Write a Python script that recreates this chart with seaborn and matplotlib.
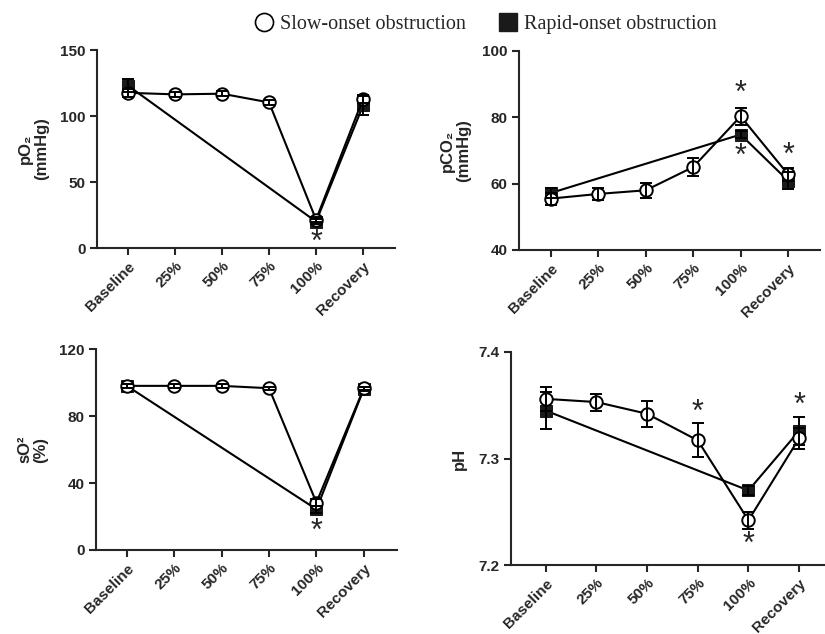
import matplotlib
matplotlib.use("Agg")
import matplotlib.pyplot as plt
import seaborn as sns
import pandas as pd
from matplotlib.lines import Line2D

# categories (x axis)
phases = ["Baseline", "25%", "50%", "75%", "100%", "Recovery"]
rapid_idx = [0, 4, 5]  # rapid-onset measured only at baseline, 100%, recovery

# pO2 (mmHg)
po2_slow = [117.6, 116.4, 116.9, 110.3, 21.5, 113.0]
po2_slow_err = [3, 2, 2, 2, 2, 3]
po2_rapid = [123.0, 20.0, 108.0]
po2_rapid_err = [5, 2, 7]

# pCO2 (mmHg)
pco2_slow = [55.5, 56.9, 58.0, 65.0, 80.3, 62.8]
pco2_slow_err = [1.8, 1.8, 2.2, 2.8, 2.5, 2.0]
pco2_rapid = [57.2, 74.8, 60.9]
pco2_rapid_err = [1.5, 1.0, 2.5]

# sO2 (%)
so2_slow = [98.0, 98.0, 98.0, 96.6, 28.3, 96.6]
so2_slow_err = [1, 1, 1, 1, 2, 1]
so2_rapid = [98.0, 24.3, 96.2]
so2_rapid_err = [1, 2, 1]

# pH
ph_slow = [7.356, 7.353, 7.342, 7.317, 7.242, 7.319]
ph_slow_err = [0.011, 0.008, 0.012, 0.016, 0.008, 0.010]
ph_rapid = [7.345, 7.270, 7.326]
ph_rapid_err = [0.017, 0.004, 0.013]

sns.set_style("ticks")
plt.rcParams["font.family"] = ["Liberation Sans", "DejaVu Sans"]
plt.rcParams["font.weight"] = "bold"

fig = plt.figure(figsize=(8.25, 6.34), dpi=100)


def panel(rect, slow, slow_err, rapid, rapid_err, ylim, yticks, ylabel, xlim, stars):
    ax = fig.add_axes(rect)
    x_slow = list(range(len(phases)))
    df_slow = pd.DataFrame({"x": x_slow, "y": slow})
    df_rapid = pd.DataFrame({"x": rapid_idx, "y": rapid})

    sns.lineplot(data=df_rapid, x="x", y="y", ax=ax, color="black", linewidth=1.5,
                 marker="s", markersize=8, markerfacecolor="#1a1a1a",
                 markeredgecolor="#1a1a1a", errorbar=None, zorder=3)
    sns.lineplot(data=df_slow, x="x", y="y", ax=ax, color="black", linewidth=1.5,
                 marker="o", markersize=9, markerfacecolor="white",
                 markeredgecolor="black", markeredgewidth=1.4, errorbar=None, zorder=4)
    ax.errorbar(rapid_idx, rapid, yerr=rapid_err, fmt="none", ecolor="black",
                elinewidth=1.4, capsize=4, capthick=1.4, zorder=5)
    ax.errorbar(x_slow, slow, yerr=slow_err, fmt="none", ecolor="black",
                elinewidth=1.4, capsize=4, capthick=1.4, zorder=5)

    # significance asterisks: (series, index, offset in points)
    for series, i, dy in stars:
        if series == "slow":
            xv, yv = x_slow[i], slow[i]
        else:
            k = rapid_idx.index(i)
            xv, yv = rapid_idx[k], rapid[k]
        ax.annotate("*", (xv, yv), xytext=(0, dy), textcoords="offset points",
                    ha="center", va="center", fontsize=22, fontweight="normal")

    ax.set_xlim(*xlim)
    ax.set_ylim(*ylim)
    ax.set_yticks(yticks)
    ax.set_xticks(range(len(phases)))
    ax.set_xticklabels(phases, rotation=45, ha="right", rotation_mode="anchor")
    ax.set_xlabel("")
    ax.set_ylabel(ylabel, fontsize=12, fontweight="bold", labelpad=8, linespacing=1.1)
    ax.tick_params(labelsize=11, width=1.5, length=5, pad=3)
    for s in ["top", "right"]:
        ax.spines[s].set_visible(False)
    for s in ["left", "bottom"]:
        ax.spines[s].set_linewidth(1.5)
    return ax


panel([0.1176, 0.6088, 0.3612, 0.3123], po2_slow, po2_slow_err, po2_rapid, po2_rapid_err,
      (0, 150), [0, 50, 100, 150], "pO\u2082\n(mmHg)", (-0.66, 5.68),
      [("rapid", 4, -15)])
panel([0.629, 0.6057, 0.365, 0.3139], pco2_slow, pco2_slow_err, pco2_rapid, pco2_rapid_err,
      (40, 100), [40, 60, 80, 100], "pCO\u2082\n(mmHg)", (-0.675, 5.675),
      [("slow", 4, 16), ("rapid", 4, -16), ("slow", 5, 13)])
panel([0.1164, 0.1325, 0.3648, 0.317], so2_slow, so2_slow_err, so2_rapid, so2_rapid_err,
      (0, 120), [0, 40, 80, 120], "sO\u00b2\n(%)", (-0.65, 5.7),
      [("rapid", 4, -16)])
panel([0.619, 0.1088, 0.381, 0.336], ph_slow, ph_slow_err, ph_rapid, ph_rapid_err,
      (7.2, 7.4), [7.2, 7.3, 7.4], "pH", (-0.69, 5.51),
      [("slow", 3, 20), ("slow", 4, -18), ("rapid", 5, 18)])

handles = [
    Line2D([], [], linestyle="none", marker="o", markersize=13, markerfacecolor="white",
           markeredgecolor="black", markeredgewidth=1.2),
    Line2D([], [], linestyle="none", marker="s", markersize=13, markerfacecolor="#1a1a1a",
           markeredgecolor="#1a1a1a"),
]
fig.legend(handles, ["Slow-onset obstruction", "Rapid-onset obstruction"],
           loc="upper center", bbox_to_anchor=(0.588, 1.005), ncol=2, frameon=False,
           handlelength=1.0, handletextpad=0.3, columnspacing=1.6,
           prop={"family": "Liberation Serif", "size": 14.5, "weight": "normal"})

fig.savefig("out.png", dpi=100)
